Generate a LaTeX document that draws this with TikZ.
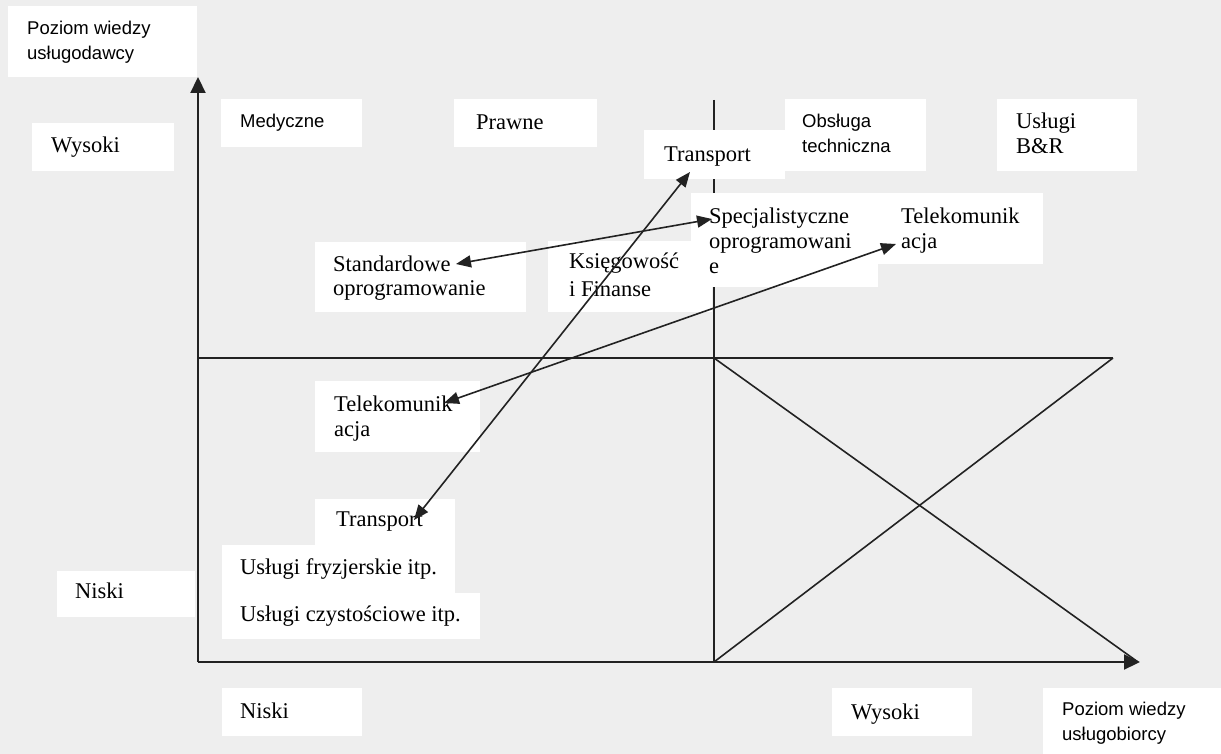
\documentclass[tikz,border=0pt]{standalone}
\usepackage{fontspec}
\setmainfont{Liberation Serif}
\newfontfamily\arialf{Liberation Sans}
\usetikzlibrary{arrows.meta}
\definecolor{bgc}{HTML}{EEEEEE}
\definecolor{linec}{HTML}{222222}
\tikzset{
  box/.style={fill=white, draw=none},
  ser/.style={anchor=base west, inner sep=0pt, font=\fontsize{22.5}{26}\selectfont},
  san/.style={anchor=base west, inner sep=0pt, font=\arialf\fontsize{18.5}{22}\selectfont},
  axisline/.style={draw=linec, line width=2.2, -{Triangle[length=16,width=15]}},
  gridline/.style={draw=linec, line width=1.6},
  dbl/.style={draw=linec, line width=1.6, {Triangle[length=15,width=12]}-{Triangle[length=15,width=12]}}
}
\begin{document}
\begin{tikzpicture}[x=1pt,y=-1pt]
\useasboundingbox (0,0) rectangle (1221,754);
\fill[bgc] (0,0) rectangle (1221,754);
% frame coordinates
\coordinate (O) at (198,662);
\coordinate (Ytop) at (198,77);
\coordinate (Xend) at (1140,662);
\coordinate (Dtop) at (714,100);
\coordinate (Dbot) at (714,662);
\coordinate (Ml) at (198,358);
\coordinate (Mc) at (714,358);
\coordinate (Mr) at (1113,358);
% grid lines
\draw[gridline] (Dtop) -- (Dbot);
\draw[gridline] (Ml) -- (Mr);
\draw[gridline] (Mc) -- (1138,662);
\draw[gridline] (Dbot) -- (Mr);
\draw[axisline] (O) -- (Ytop);
\draw[axisline] (O) -- (Xend);
% boxes
\node[box, anchor=north west, minimum width=189, minimum height=71] (ydescBox) at (8,6) {};
\node[box, anchor=north west, minimum width=142, minimum height=48] (wysLBox) at (32,123) {};
\node[box, anchor=north west, minimum width=141, minimum height=48] (medBox) at (221,99) {};
\node[box, anchor=north west, minimum width=143, minimum height=48] (prawBox) at (454,99) {};
\node[box, anchor=north west, minimum width=141, minimum height=49] (trTopBox) at (644,130) {};
\node[box, anchor=north west, minimum width=141, minimum height=72] (obsBox) at (785,99) {};
\node[box, anchor=north west, minimum width=140, minimum height=72] (brBox) at (997,99) {};
\node[box, anchor=north west, minimum width=164, minimum height=71] (ksieBox) at (548,241) {};
\node[box, anchor=north west, minimum width=187, minimum height=94] (specBox) at (691,193) {};
\node[box, anchor=north west, minimum width=166, minimum height=71] (tkUpBox) at (877,193) {};
\node[box, anchor=north west, minimum width=211, minimum height=70] (stdBox) at (315,242) {};
\node[box, anchor=north west, minimum width=165, minimum height=71] (tkLowBox) at (315,381) {};
\node[box, anchor=north west, minimum width=140, minimum height=48] (trBotBox) at (315,499) {};
\node[box, anchor=north west, minimum width=233, minimum height=48] (fryzBox) at (222,545) {};
\node[box, anchor=north west, minimum width=258, minimum height=46] (czysBox) at (222,593) {};
\node[box, anchor=north west, minimum width=138, minimum height=46] (niskiLBox) at (57,571) {};
\node[box, anchor=north west, minimum width=140, minimum height=48] (niskiBBox) at (222,688) {};
\node[box, anchor=north west, minimum width=140, minimum height=48] (wysBBox) at (832,688) {};
\node[box, anchor=north west, minimum width=178, minimum height=66] (xdescBox) at (1043,688) {};
% texts
\node[san] (yd1) at (27,35) {Poziom wiedzy};
\node[san] (yd2) at (27,60) {usługodawcy};
\node[ser] (wysL) at (51,153) {Wysoki};
\node[san] (med) at (240,128) {Medyczne};
\node[ser] (praw) at (476,130) {Prawne};
\node[ser] (trTop) at (664,162) {Transport};
\node[san] (obs1) at (802,128) {Obsługa};
\node[san] (obs2) at (802,153) {techniczna};
\node[ser] (br1) at (1016,129) {Usługi};
\node[ser] (br2) at (1016,154) {B\&R};
\node[ser] (spec1) at (709,224) {Specjalistyczne};
\node[ser] (spec2) at (709,248) {oprogramowani};
\node[ser] (spec3) at (709,273) {e};
\node[ser] (tkUp1) at (901,224) {Telekomunik};
\node[ser] (tkUp2) at (901,248) {acja};
\node[ser] (std1) at (333,271) {Standardowe};
\node[ser] (std2) at (333,295) {oprogramowanie};
\node[ser] (ksie1) at (569,269) {Księgowość};
\node[ser] (ksie2) at (569,296) {i Finanse};
\node[ser] (tkLow1) at (334,411) {Telekomunik};
\node[ser] (tkLow2) at (334,436) {acja};
\node[ser] (trBot) at (336,526) {Transport};
\node[ser] (fryz) at (240,574) {Usługi fryzjerskie itp.};
\node[ser] (czys) at (240,621) {Usługi czystościowe itp.};
\node[ser] (niskiL) at (75,598) {Niski};
\node[ser] (niskiB) at (240,718) {Niski};
\node[ser] (wysB) at (851,719) {Wysoki};
\node[san] (xd1) at (1062,715) {Poziom wiedzy};
\node[san] (xd2) at (1062,740) {usługobiorcy};
% connector end points
\coordinate (stdTip) at (456,264);
\coordinate (specTip) at (712,219);
\coordinate (trTopTip) at (690,172);
\coordinate (trBotTip) at (414,520);
\coordinate (tkLowTip) at (444,403);
\coordinate (tkUpTip) at (896,244);
\draw[dbl] (stdTip) -- (specTip);
\draw[dbl] (trBotTip) -- (trTopTip);
\draw[dbl] (tkLowTip) -- (tkUpTip);
\end{tikzpicture}
\end{document}
